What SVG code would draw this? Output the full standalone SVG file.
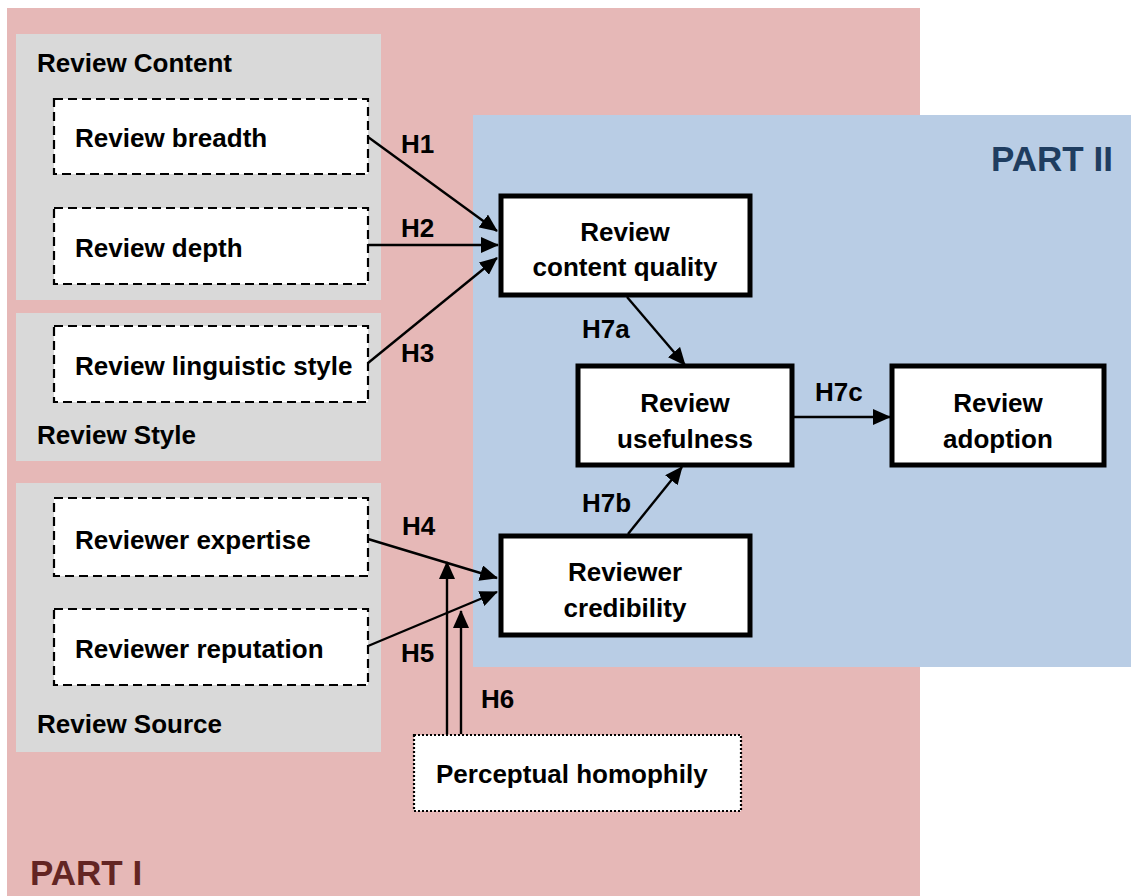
<svg xmlns="http://www.w3.org/2000/svg" width="1131" height="896" viewBox="0 0 1131 896">
<style>
text{font-family:"Liberation Sans",Arial,sans-serif;font-weight:bold;font-size:26px;fill:#000}
.grp{fill:#D9D9D9}
.dash{fill:#fff;stroke:#000;stroke-width:2.2;stroke-dasharray:9 5}
.main{fill:#fff;stroke:#000;stroke-width:5}
.dot{fill:#fff;stroke:#000;stroke-width:2.2;stroke-dasharray:2 2}
.mid{text-anchor:middle}
.conn line{stroke:#000;stroke-width:2.4;marker-end:url(#ah)}
</style>
<defs>
<marker id="ah" markerUnits="userSpaceOnUse" markerWidth="18" markerHeight="16" refX="17" refY="8" orient="auto">
<path d="M0,0 L18,8 L0,16 Z" fill="#000"/>
</marker>
</defs>
<rect width="1131" height="896" fill="#fff"/>
<g id="part1">
<rect x="7" y="8" width="913" height="888" fill="#E6B8B7"/>
<text x="30" y="885" style="font-size:35px;fill:#632523">PART I</text>
</g>
<g id="part2">
<rect x="473" y="115" width="658" height="552" fill="#B9CDE5"/>
<text x="991" y="171" style="font-size:35px;fill:#1F3D60">PART II</text>
</g>
<g id="review-content">
<rect class="grp" x="16" y="34" width="365" height="266"/>
<text x="37" y="72">Review Content</text>
</g>
<g id="review-style">
<rect class="grp" x="16" y="313" width="365" height="148"/>
<text x="37" y="444">Review Style</text>
</g>
<g id="review-source">
<rect class="grp" x="16" y="483" width="365" height="269"/>
<text x="37" y="733">Review Source</text>
</g>
<g id="breadth"><rect class="dash" x="54" y="99" width="314" height="75"/><text x="75" y="147">Review breadth</text></g>
<g id="depth"><rect class="dash" x="54" y="208" width="314" height="76"/><text x="75" y="257">Review depth</text></g>
<g id="linguistic"><rect class="dash" x="54" y="326" width="314" height="76"/><text x="75" y="375">Review linguistic style</text></g>
<g id="expertise"><rect class="dash" x="54" y="498" width="314" height="78"/><text x="75" y="549">Reviewer expertise</text></g>
<g id="reputation"><rect class="dash" x="54" y="609" width="314" height="76"/><text x="75" y="658">Reviewer reputation</text></g>
<g id="content-quality"><rect class="main" x="501" y="196" width="249" height="99"/><text class="mid" x="625" y="241">Review</text><text class="mid" x="625" y="276">content quality</text></g>
<g id="usefulness"><rect class="main" x="578" y="366" width="214" height="99"/><text class="mid" x="685" y="412">Review</text><text class="mid" x="685" y="448">usefulness</text></g>
<g id="adoption"><rect class="main" x="892" y="366" width="212" height="99"/><text class="mid" x="998" y="412">Review</text><text class="mid" x="998" y="448">adoption</text></g>
<g id="credibility"><rect class="main" x="501" y="536" width="249" height="99"/><text class="mid" x="625" y="581">Reviewer</text><text class="mid" x="625" y="617">credibility</text></g>
<g id="homophily"><rect class="dot" x="414" y="735" width="327" height="76"/><text x="436" y="783">Perceptual homophily</text></g>
<g id="connectors" class="conn">
<line x1="368" y1="137" x2="497" y2="231"/>
<line x1="368" y1="245" x2="498" y2="245"/>
<line x1="368" y1="363" x2="497" y2="258"/>
<line x1="627" y1="297" x2="685" y2="365"/>
<line x1="793" y1="417" x2="890" y2="417"/>
<line x1="628" y1="534" x2="682" y2="467"/>
<line x1="368" y1="539" x2="497" y2="578"/>
<line x1="368" y1="646" x2="497" y2="592"/>
<line x1="447" y1="734" x2="447" y2="562"/>
<line x1="461" y1="734" x2="461" y2="611"/>
</g>
<g id="labels">
<text x="401" y="153">H1</text>
<text x="401" y="237">H2</text>
<text x="401" y="362">H3</text>
<text x="582" y="338">H7a</text>
<text x="815" y="401">H7c</text>
<text x="582" y="512">H7b</text>
<text x="402" y="535">H4</text>
<text x="401" y="662">H5</text>
<text x="481" y="708">H6</text>
</g>
</svg>
